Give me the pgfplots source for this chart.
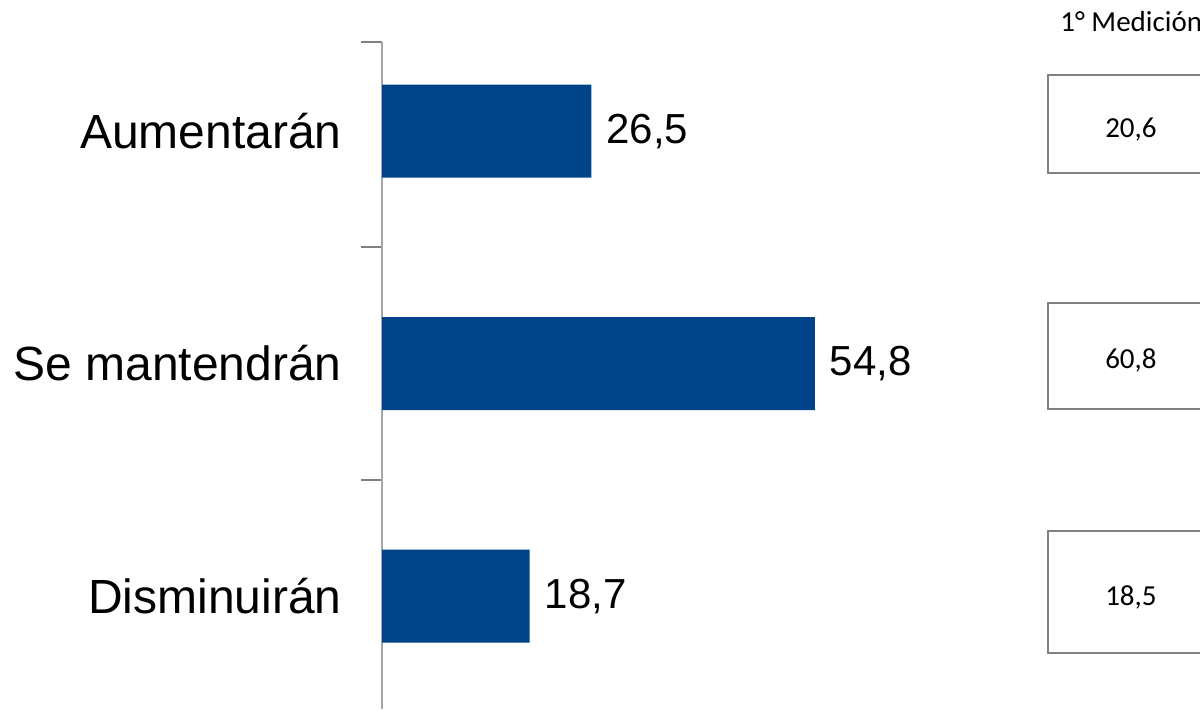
\documentclass[border=0pt]{standalone}
\usepackage{fontspec}
\setmainfont{Liberation Sans}
\newfontfamily\calibri{Carlito}
\usepackage{pgfplots}
\pgfplotsset{compat=1.18}
\usepackage{pgfplotstable}
\definecolor{barblue}{RGB}{0,67,136}
\definecolor{axisgray}{RGB}{166,166,166}
\definecolor{boxgray}{RGB}{128,128,128}

% 2a medicion (barras)
\pgfplotstableread{
y val
0 26.5
1 54.8
2 18.7
}\actual

\pgfplotsset{
  prevbox/.style={draw=none, mark=none, forget plot,
    nodes near coords={\raisebox{-1.6pt}[\height][0pt]{\pgfplotspointmeta}},
    point meta=explicit symbolic,
    every node near coord/.append style={draw=boxgray, line width=1pt,
      minimum width=83pt, minimum height=#1, anchor=center,
      font=\calibri\fontsize{14.5}{17}\selectfont, text=black}},
}

\begin{document}
\begin{tikzpicture}
\path[use as bounding box] (0,0) rectangle (600pt,354.5pt);
\begin{axis}[
    at={(191pt,0pt)}, anchor=south west,
    scale only axis, width=395pt, height=333.5pt,
    xmin=0, xmax=100, ymin=-0.383, ymax=2.486,
    y dir=reverse,
    axis x line=none,
    axis y line*=left,
    y axis line style={draw=axisgray, line width=1pt, -},
    ytick={-0.383,0.5,1.5},
    yticklabels={},
    ytick style={draw=boxgray, line width=1pt},
    major tick length=10.5pt, tick align=outside,
    extra y ticks={0,1,2},
    extra y tick labels={Aumentarán,Se mantendrán,Disminuirán},
    extra y tick style={major tick length=0pt, tick style={draw=none},
      yticklabel style={font=\fontsize{24}{28}\selectfont, inner sep=0pt, xshift=-20pt}},
    clip=false,
    /pgf/number format/assume math mode=true,
    /pgf/number format/use comma,
    /pgf/number format/fixed,
    /pgf/number format/fixed zerofill,
    /pgf/number format/precision=1,
  ]
  \addplot[xbar, bar width=0.4, fill=barblue, draw=none,
    nodes near coords, nodes near coords align=horizontal,
    every node near coord/.append style={font=\fontsize{21}{25}\selectfont, text=black, xshift=4pt}]
    table[x=val, y=y] {\actual};
  % 1a medicion
  \addplot[prevbox=49pt] coordinates {(94.8,-0.03) [20,6]};
  \addplot[prevbox=53pt] coordinates {(94.8,0.966) [60,8]};
  \addplot[prevbox=61pt] coordinates {(94.8,1.983) [18,5]};
\end{axis}
\node[anchor=base west, inner sep=0pt, font=\calibri\fontsize{14.5}{17}\selectfont]
  at (530pt,338.5pt) {1° Medición};
\end{tikzpicture}
\end{document}
